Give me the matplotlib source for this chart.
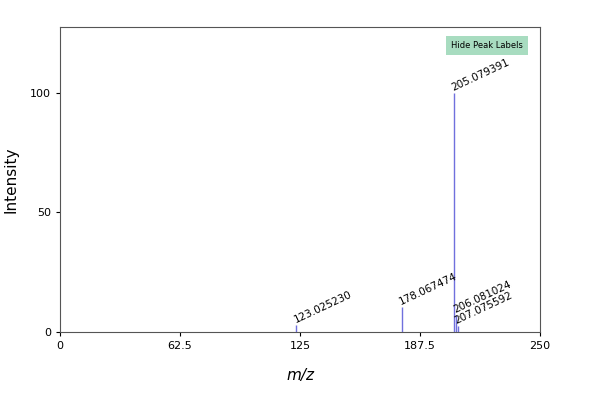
import matplotlib
matplotlib.use("Agg")
import matplotlib.pyplot as plt

mz = [123.025230, 178.067474, 205.079391, 206.081024, 207.075592]
intensity = [3.0, 10.5, 100.0, 7.0, 2.5]
labels = ["123.025230", "178.067474", "205.079391", "206.081024", "207.075592"]
xticks = [0, 62.5, 125, 187.5, 250]
xticklabels = ["0", "62.5", "125", "187.5", "250"]
yticks = [0, 50, 100]

fig = plt.figure(figsize=(6, 4), dpi=100)
ax = fig.add_axes([0.1, 0.17, 0.8, 0.763])
ax.vlines(mz, 0, intensity, color="#7070dd", linewidth=1)
for x, y, t in zip(mz, intensity, labels):
    ax.text(x, y, t, rotation=25, fontsize=7.5, ha="left", va="bottom", rotation_mode="anchor")
ax.set_xlim(0, 250)
ax.set_ylim(0, 127.5)
ax.set_xticks(xticks)
ax.set_xticklabels(xticklabels, fontsize=8)
ax.set_yticks(yticks)
ax.tick_params(labelsize=8, length=3)
for s in ax.spines.values():
    s.set_color("#555555")
ax.set_xlabel("m/z", fontstyle="italic", fontsize=11, labelpad=12)
ax.set_ylabel("Intensity", fontsize=11, labelpad=8)
ax.text(0.965, 0.955, "Hide Peak Labels", transform=ax.transAxes, ha="right", va="top", fontsize=6,
        bbox=dict(boxstyle="square,pad=0.6", fc="#a8dcc0", ec="none"))
fig.savefig("out.png")
